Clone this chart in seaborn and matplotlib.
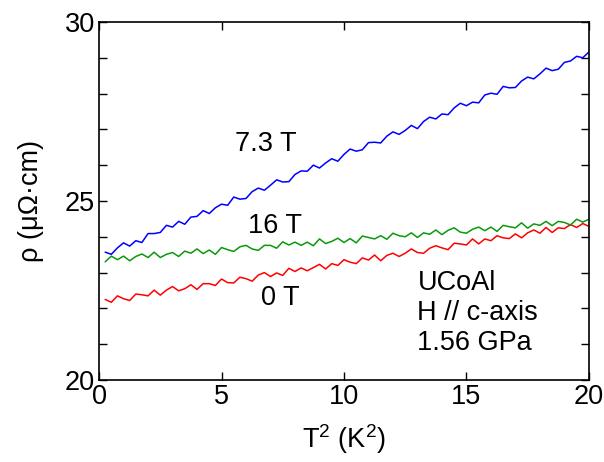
import matplotlib
matplotlib.use("Agg")
import matplotlib.pyplot as plt
import seaborn as sns
import pandas as pd
from matplotlib.ticker import MultipleLocator

T2 = [0.25, 0.5, 0.75, 1.0, 1.25, 1.5, 1.75, 2.0, 2.25, 2.5, 2.75, 3.0, 3.25, 3.5, 3.75, 4.0,
      4.25, 4.5, 4.75, 5.0, 5.25, 5.5, 5.75, 6.0, 6.25, 6.5, 6.75, 7.0, 7.25, 7.5, 7.75, 8.0,
      8.25, 8.5, 8.75, 9.0, 9.25, 9.5, 9.75, 10.0, 10.25, 10.5, 10.75, 11.0, 11.25, 11.5, 11.75, 12.0,
      12.25, 12.5, 12.75, 13.0, 13.25, 13.5, 13.75, 14.0, 14.25, 14.5, 14.75, 15.0, 15.25, 15.5, 15.75, 16.0,
      16.25, 16.5, 16.75, 17.0, 17.25, 17.5, 17.75, 18.0, 18.25, 18.5, 18.75, 19.0, 19.25, 19.5, 19.75, 20.0]

rho_73T = [23.57, 23.51, 23.69, 23.83, 23.74, 23.89, 23.84, 24.09, 24.09, 24.12, 24.32, 24.27, 24.43, 24.35, 24.55, 24.57,
           24.73, 24.65, 24.81, 24.91, 24.88, 25.11, 25.05, 25.07, 25.26, 25.36, 25.30, 25.44, 25.59, 25.53, 25.54, 25.74,
           25.84, 25.83, 26.00, 25.92, 26.06, 26.18, 26.11, 26.30, 26.45, 26.39, 26.43, 26.63, 26.64, 26.62, 26.81, 26.93,
           26.86, 26.97, 27.11, 27.02, 27.22, 27.34, 27.29, 27.43, 27.41, 27.60, 27.73, 27.66, 27.76, 27.74, 27.96, 28.01,
           27.98, 28.20, 28.16, 28.17, 28.35, 28.46, 28.41, 28.55, 28.71, 28.64, 28.68, 28.87, 28.91, 29.04, 29.00, 29.16]

rho_16T = [23.30, 23.46, 23.36, 23.46, 23.33, 23.45, 23.52, 23.42, 23.57, 23.42, 23.51, 23.56, 23.45, 23.60, 23.54, 23.66,
           23.53, 23.63, 23.51, 23.70, 23.64, 23.59, 23.72, 23.76, 23.66, 23.62, 23.76, 23.76, 23.68, 23.86, 23.77, 23.85,
           23.76, 23.85, 23.75, 23.94, 23.81, 23.87, 23.96, 23.84, 23.95, 23.83, 24.02, 23.98, 23.94, 24.03, 23.93, 24.10,
           24.03, 24.00, 24.11, 23.98, 24.11, 24.07, 24.19, 24.06, 24.18, 24.25, 24.13, 24.10, 24.21, 24.27, 24.17, 24.27,
           24.15, 24.32, 24.28, 24.25, 24.39, 24.24, 24.36, 24.32, 24.43, 24.31, 24.43, 24.40, 24.33, 24.49, 24.41, 24.49]

rho_0T = [22.25, 22.17, 22.35, 22.27, 22.22, 22.40, 22.38, 22.35, 22.51, 22.37, 22.51, 22.61, 22.49, 22.55, 22.66, 22.53,
          22.69, 22.69, 22.64, 22.82, 22.72, 22.71, 22.87, 22.83, 22.76, 22.93, 23.00, 22.89, 22.99, 22.92, 23.12, 23.03,
          23.13, 23.05, 23.14, 23.23, 23.10, 23.25, 23.20, 23.36, 23.29, 23.25, 23.41, 23.35, 23.49, 23.33, 23.48, 23.54,
          23.45, 23.54, 23.66, 23.56, 23.54, 23.68, 23.75, 23.69, 23.64, 23.82, 23.80, 23.77, 23.94, 23.80, 23.94, 23.89,
          24.03, 23.97, 23.95, 24.08, 23.97, 24.11, 24.19, 24.10, 24.26, 24.12, 24.25, 24.23, 24.34, 24.26, 24.37, 24.29]

series_names = ["0 T", "16 T", "7.3 T"]
series_colors = ["#ff0000", "#0a990a", "#0000ff"]
info_lines = ["UCoAl", "H // c-axis", "1.56 GPa"]

df = pd.concat([
    pd.DataFrame({"T2": T2, "rho": rho_0T, "field": "0 T"}),
    pd.DataFrame({"T2": T2, "rho": rho_16T, "field": "16 T"}),
    pd.DataFrame({"T2": T2, "rho": rho_73T, "field": "7.3 T"}),
], ignore_index=True)

sns.set_theme(style="ticks")
plt.rcParams["font.family"] = ["Liberation Sans", "DejaVu Sans"]
plt.rcParams["mathtext.fontset"] = "custom"
plt.rcParams["mathtext.rm"] = "Liberation Sans"
plt.rcParams["mathtext.it"] = "Liberation Sans"
plt.rcParams["text.color"] = "black"
plt.rcParams["axes.labelcolor"] = "black"
plt.rcParams["xtick.color"] = "black"
plt.rcParams["ytick.color"] = "black"

FS = 19.5
fig = plt.figure(figsize=(6.04, 4.62), dpi=100)
ax = fig.add_axes([0.164, 0.1775, 0.811, 0.775])

sns.lineplot(data=df, x="T2", y="rho", hue="field", hue_order=series_names,
             palette=dict(zip(series_names, series_colors)), estimator=None,
             sort=False, linewidth=1.1, legend=False, ax=ax)

ax.set_xlim(0, 20)
ax.set_ylim(20, 30)
ax.xaxis.set_major_locator(MultipleLocator(5))
ax.yaxis.set_major_locator(MultipleLocator(5))
ax.yaxis.set_minor_locator(MultipleLocator(1))
ax.tick_params(which="both", direction="in", top=True, right=True, length=6, width=1,
               labelsize=FS, color="black", labelcolor="black", pad=3)
for s in ax.spines.values():
    s.set_linewidth(1.2)
    s.set_color("black")

ax.set_xlabel("T$^2$ (K$^2$)", fontsize=FS, labelpad=9)
ax.set_ylabel("ρ (μΩ·cm)", fontsize=FS, labelpad=15)

ax.text(6.8, 26.6, "7.3 T", fontsize=FS, ha="center", va="center")
ax.text(7.2, 24.3, "16 T", fontsize=FS, ha="center", va="center")
ax.text(7.4, 22.3, "0 T", fontsize=FS, ha="center", va="center")
for line, yy in zip(info_lines, [22.71, 21.87, 21.03]):
    ax.text(13.0, yy, line, fontsize=FS, ha="left", va="center")

fig.savefig("out.png", dpi=100)
